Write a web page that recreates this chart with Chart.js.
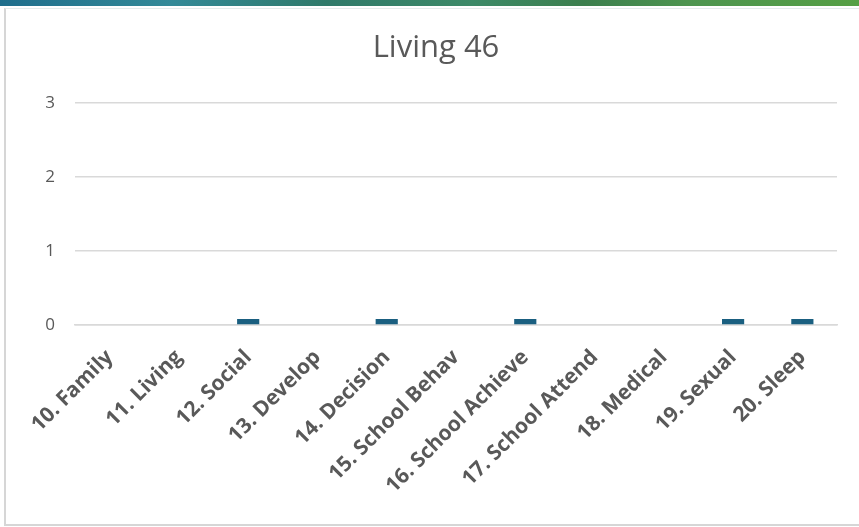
<!DOCTYPE html>
<html>
<head>
<meta charset="utf-8">
<script src="https://cdn.jsdelivr.net/npm/chart.js@4.4.1/dist/chart.umd.min.js"></script>
<style>
  html, body { margin: 0; padding: 0; background: #fff; }
  body { width: 859px; height: 527px; position: relative; overflow: hidden; }
  .band {
    position: absolute; left: 0; top: 0; width: 859px; height: 6px;
    background: linear-gradient(90deg, #1f6e8c 0%, #338a98 20%, #2f7a6a 38%, #3c8a68 55%, #3b7f4e 68%, #4d9550 80%, #55a045 100%);
  }
  .frame {
    position: absolute; left: 4px; top: 8px; width: 870px; height: 515px;
    border-left: 2px solid #d6d6d6; border-top: 1px solid #e4ecec; border-bottom: 2px solid #d6d6d6;
  }
  #wrap { position: absolute; left: 0; top: 0; width: 859px; height: 527px; }
</style>
</head>
<body>
<div class="band"></div>
<div class="frame"></div>
<div id="wrap"><canvas id="mainChart"></canvas></div>
<script>
const chartTitle = 'Living 46';
const categories = ['10. Family', '11. Living', '12. Social', '13. Develop', '14. Decision', '15. School Behav',
                    '16. School Achieve', '17. School Attend', '18. Medical', '19. Sexual', '20. Sleep'];
const values = [0, 0, 0.08, 0, 0.08, 0, 0.08, 0, 0, 0.08, 0.08];
const yTicks = [0, 1, 2, 3];

const ctx = document.getElementById('mainChart').getContext('2d');
new Chart(ctx, {
    type: 'bar',
    data: {
        labels: categories,
        datasets: [{
            data: values,
            backgroundColor: '#1a5f80',
            borderWidth: 0,
            barPercentage: 0.32,
            categoryPercentage: 1
        }]
    },
    options: {
        responsive: true,
        maintainAspectRatio: false,
        animation: false,
        layout: { padding: { left: 35, right: 22, top: 0, bottom: 0 } },
        scales: {
            y: {
                min: 0,
                max: 3,
                afterFit: function (scale) { scale.width = 40; },
                afterBuildTicks: function (scale) { scale.ticks = yTicks.map(v => ({ value: v })); },
                border: { display: false },
                grid: { color: '#d9d9d9', lineWidth: 1.5, drawTicks: false },
                ticks: {
                    color: '#595959',
                    padding: 20,
                    font: { family: 'Open Sans', size: 17 }
                }
            },
            x: {
                afterFit: function (scale) { scale.height = 202; },
                border: { display: true, color: '#d9d9d9', width: 1.5 },
                grid: { display: false },
                ticks: {
                    color: '#595959',
                    maxRotation: 45,
                    minRotation: 45,
                    autoSkip: false,
                    padding: 12,
                    font: { family: 'Open Sans', size: 21, weight: 'bold' }
                }
            }
        },
        plugins: {
            legend: { display: false },
            tooltip: { enabled: false },
            title: {
                display: true,
                text: chartTitle,
                color: '#595959',
                padding: { top: 30, bottom: 36 },
                font: { family: 'Open Sans', size: 31, weight: 'normal' }
            }
        }
    }
});
</script>
</body>
</html>
